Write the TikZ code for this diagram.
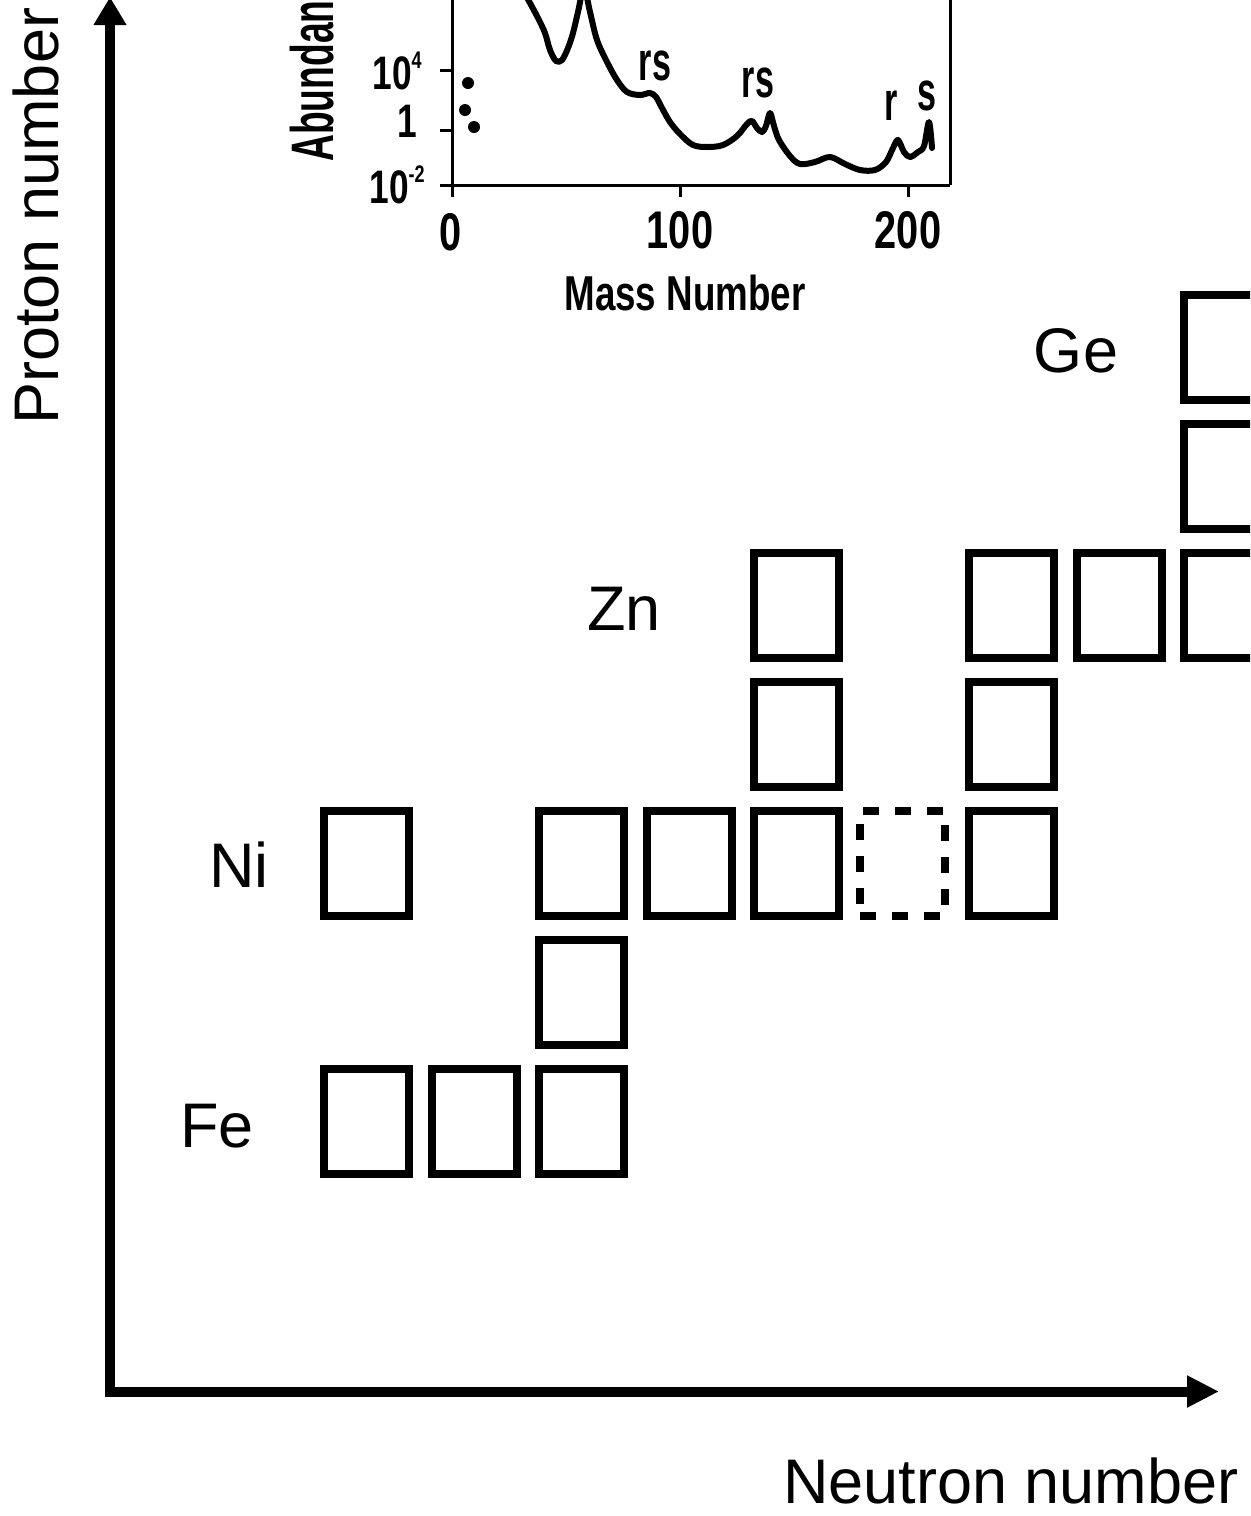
\documentclass[tikz,border=0pt]{standalone}
\usepackage{fontspec}
\setmainfont{Liberation Sans}
\newfontfamily\condfont[FakeStretch=0.75]{Liberation Sans}
\newfontfamily\narrowfont[FakeStretch=0.62]{Liberation Sans}
\usetikzlibrary{arrows.meta}
\newcommand\supr[1]{\raisebox{10.5pt}{\fontsize{12}{12}\selectfont #1}}
\begin{document}
\begin{tikzpicture}[x=0.5pt,y=-0.5pt,
  nuc/.style={draw, line width=4pt, minimum width=42.5pt, minimum height=52.5pt, inner sep=0pt},
  nucdash/.style={nuc, dash pattern=on 8pt off 8pt},
  elem/.style={font=\fontsize{31.5}{36}\selectfont, inner sep=0pt, anchor=base},
  axisline/.style={line width=5pt},
  frameline/.style={line width=1.5pt},
  ticklab/.style={font=\condfont\bfseries\fontsize{23.5}{24}\selectfont, inner sep=0pt},
  xlab/.style={font=\condfont\bfseries\fontsize{26.5}{28}\selectfont, inner sep=0pt, anchor=base},
  peaklab/.style={font=\narrowfont\bfseries\fontsize{27.5}{28}\selectfont, inner sep=0pt, anchor=base},
  dotstyle/.style={fill=black}
]
\useasboundingbox (0,0) rectangle (1250,1516);
\clip (0,0) rectangle (1250,1516);

% ---------- axes ----------
\coordinate (vbot) at (110,1396.5);
\coordinate (vtop) at (110,-3);
\coordinate (hleft) at (105,1391.5);
\coordinate (hright) at (1219,1391.5);
\draw[axisline, -{Triangle[length=14pt,width=15.5pt]}] (vbot) -- (vtop);
\draw[axisline, -{Triangle[length=16pt,width=15pt]}] (hleft) -- (hright);

\node[rotate=90, anchor=base west, inner sep=0pt, font=\fontsize{31.5}{36}\selectfont] (ylab) at (58,425) {Proton number};
\node[elem] (xlab) at (1011,1503) {Neutron number};

% ---------- element labels ----------
\node[elem] (lGe) at (1076,372) {Ge};
\node[elem] (lZn) at (624,630) {Zn};
\node[elem] (lNi) at (239,887) {Ni};
\node[elem] (lFe) at (217,1147) {Fe};

% ---------- nuclide boxes ----------
% Fe row
\node[nuc] (b00) at (366.5,1121.5) {};
\node[nuc] (b10) at (474,1121.5) {};
\node[nuc] (b20) at (581.5,1121.5) {};
% row 1
\node[nuc] (b21) at (581.5,992.5) {};
% Ni row
\node[nuc] (b02) at (366.5,863.5) {};
\node[nuc] (b22) at (581.5,863.5) {};
\node[nuc] (b32) at (689,863.5) {};
\node[nuc] (b42) at (796.5,863.5) {};
\node[nucdash] (b52) at (902,863.5) {};
\node[nuc] (b62) at (1011.5,863.5) {};
% row 3
\node[nuc] (b43) at (796.5,734.5) {};
\node[nuc] (b63) at (1011.5,734.5) {};
% Zn row
\node[nuc] (b44) at (796.5,605.5) {};
\node[nuc] (b64) at (1011.5,605.5) {};
\node[nuc] (b74) at (1119,605.5) {};
\node[nuc] (b84) at (1226.5,605.5) {};
% row 5
\node[nuc] (b85) at (1226.5,476.5) {};
% Ge row
\node[nuc] (b86) at (1226.5,347.5) {};

% ---------- inset abundance plot ----------
\draw[frameline] (452,-5) -- (452,197);
\draw[frameline] (440,185) -- (950,185);
\draw[frameline] (950,-5) -- (950,185);
\draw[frameline] (440,70) -- (452,70);
\draw[frameline] (440,130) -- (452,130);
\draw[frameline] (680,185) -- (680,197);
\draw[frameline] (908,185) -- (908,197);

\begin{scope}
\clip (452,-20) rectangle (950,185);
\draw[line width=3pt, line join=round, line cap=round] plot[smooth, tension=0.55] coordinates {
 (520,-15) (530,3) (538,18) (545,33) (550,50) (556,61) (562,60) (568,48) (573,33) (578,12) (584,-12)
 (590,12) (597,40) (607,62) (617,80) (627,92) (640,95) (650,93) (656,97) (662,108) (670,122)
 (680,134) (693,145) (708,147) (723,145) (737,136) (747,124) (752,121) (757,128) (762,132)
 (766,126) (770,113) (774,126) (779,140) (790,156) (800,164) (815,162) (830,157) (845,164)
 (860,170) (875,170) (886,162) (893,148) (898,140) (904,152) (910,157) (918,152) (924,146)
 (929,122) (932,148)};
\end{scope}

\fill[dotstyle] (468,83) circle (6);
\fill[dotstyle] (465,110) circle (6);
\fill[dotstyle] (474,127) circle (6);

\node[ticklab, anchor=base west] (t4) at (372,89) {10\supr{4}};
\node[ticklab, anchor=base] (t0) at (407,137) {1};
\node[ticklab, anchor=base west] (tm2) at (369,203) {10\supr{-2}};

\node[xlab] (x0) at (451,250) {0};
\node[xlab] (x100) at (680,248) {100};
\node[xlab] (x200) at (908,248) {200};
\node[xlab, font=\condfont\bfseries\fontsize{24.5}{26}\selectfont] (xmass) at (685,310) {Mass Number};

\node[rotate=90, anchor=base west, inner sep=0pt, font=\narrowfont\bfseries\fontsize{30}{30}\selectfont] (yab) at (333,162) {Abundan};

\node[peaklab] (rs1) at (655,80) {rs};
\node[peaklab] (rs2) at (758,97) {rs};
\node[peaklab] (r3) at (891,120) {r};
\node[peaklab] (s3) at (927,110) {s};
\end{tikzpicture}
\end{document}
